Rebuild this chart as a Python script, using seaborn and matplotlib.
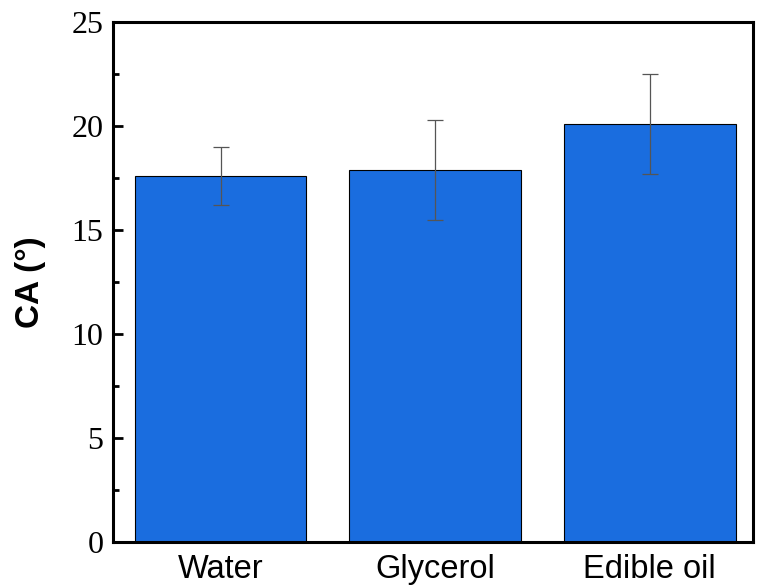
import numpy as np
import pandas as pd
import seaborn as sns
import matplotlib
matplotlib.use("Agg")
import matplotlib.pyplot as plt
from matplotlib.ticker import MultipleLocator

liquids = ["Water", "Glycerol", "Edible oil"]
ca_mean = [17.6, 17.9, 20.1]
ca_err = [1.4, 2.4, 2.4]

df = pd.DataFrame({"liquid": liquids, "ca": ca_mean})

sns.set_style("white")
plt.rcParams["text.color"] = "black"
plt.rcParams["axes.labelcolor"] = "black"
plt.rcParams["xtick.color"] = "black"
plt.rcParams["ytick.color"] = "black"

fig = plt.figure(figsize=(7.65, 5.86), dpi=100)
ax = fig.add_axes([0.148, 0.075, 0.836, 0.8875])

sns.barplot(data=df, x="liquid", y="ca", color="#1a6ddf", saturation=1,
            edgecolor="black", linewidth=0.8, width=0.8, errorbar=None, ax=ax)

# error bars at the category positions
xpos = ax.get_xticks()
ax.errorbar(xpos, df["ca"], yerr=ca_err, fmt="none", ecolor="#555555",
            elinewidth=0.9, capsize=5.5, capthick=0.9)

ax.set_xlim(-0.5, 2.48)
ax.set_ylim(0, 25)
ax.yaxis.set_major_locator(MultipleLocator(5))
ax.yaxis.set_minor_locator(MultipleLocator(2.5))
ax.tick_params(axis="y", which="major", direction="in", length=7, width=2,
               left=True, right=False, pad=7)
ax.tick_params(axis="y", which="minor", direction="in", length=4, width=2,
               left=True, right=False)
ax.tick_params(axis="x", bottom=False, top=False, pad=5)

for lab in ax.get_yticklabels():
    lab.set_fontfamily("Liberation Serif")
    lab.set_fontsize(23)
for lab in ax.get_xticklabels():
    lab.set_fontfamily("Liberation Sans")
    lab.set_fontsize(23.5)

ax.set_xlabel("")
ax.set_ylabel("CA (°)", fontsize=24, fontweight="bold", family="Liberation Sans",
              labelpad=18)

for sp in ax.spines.values():
    sp.set_visible(True)
    sp.set_linewidth(2.2)
    sp.set_color("black")

fig.savefig("out.png", dpi=100)
